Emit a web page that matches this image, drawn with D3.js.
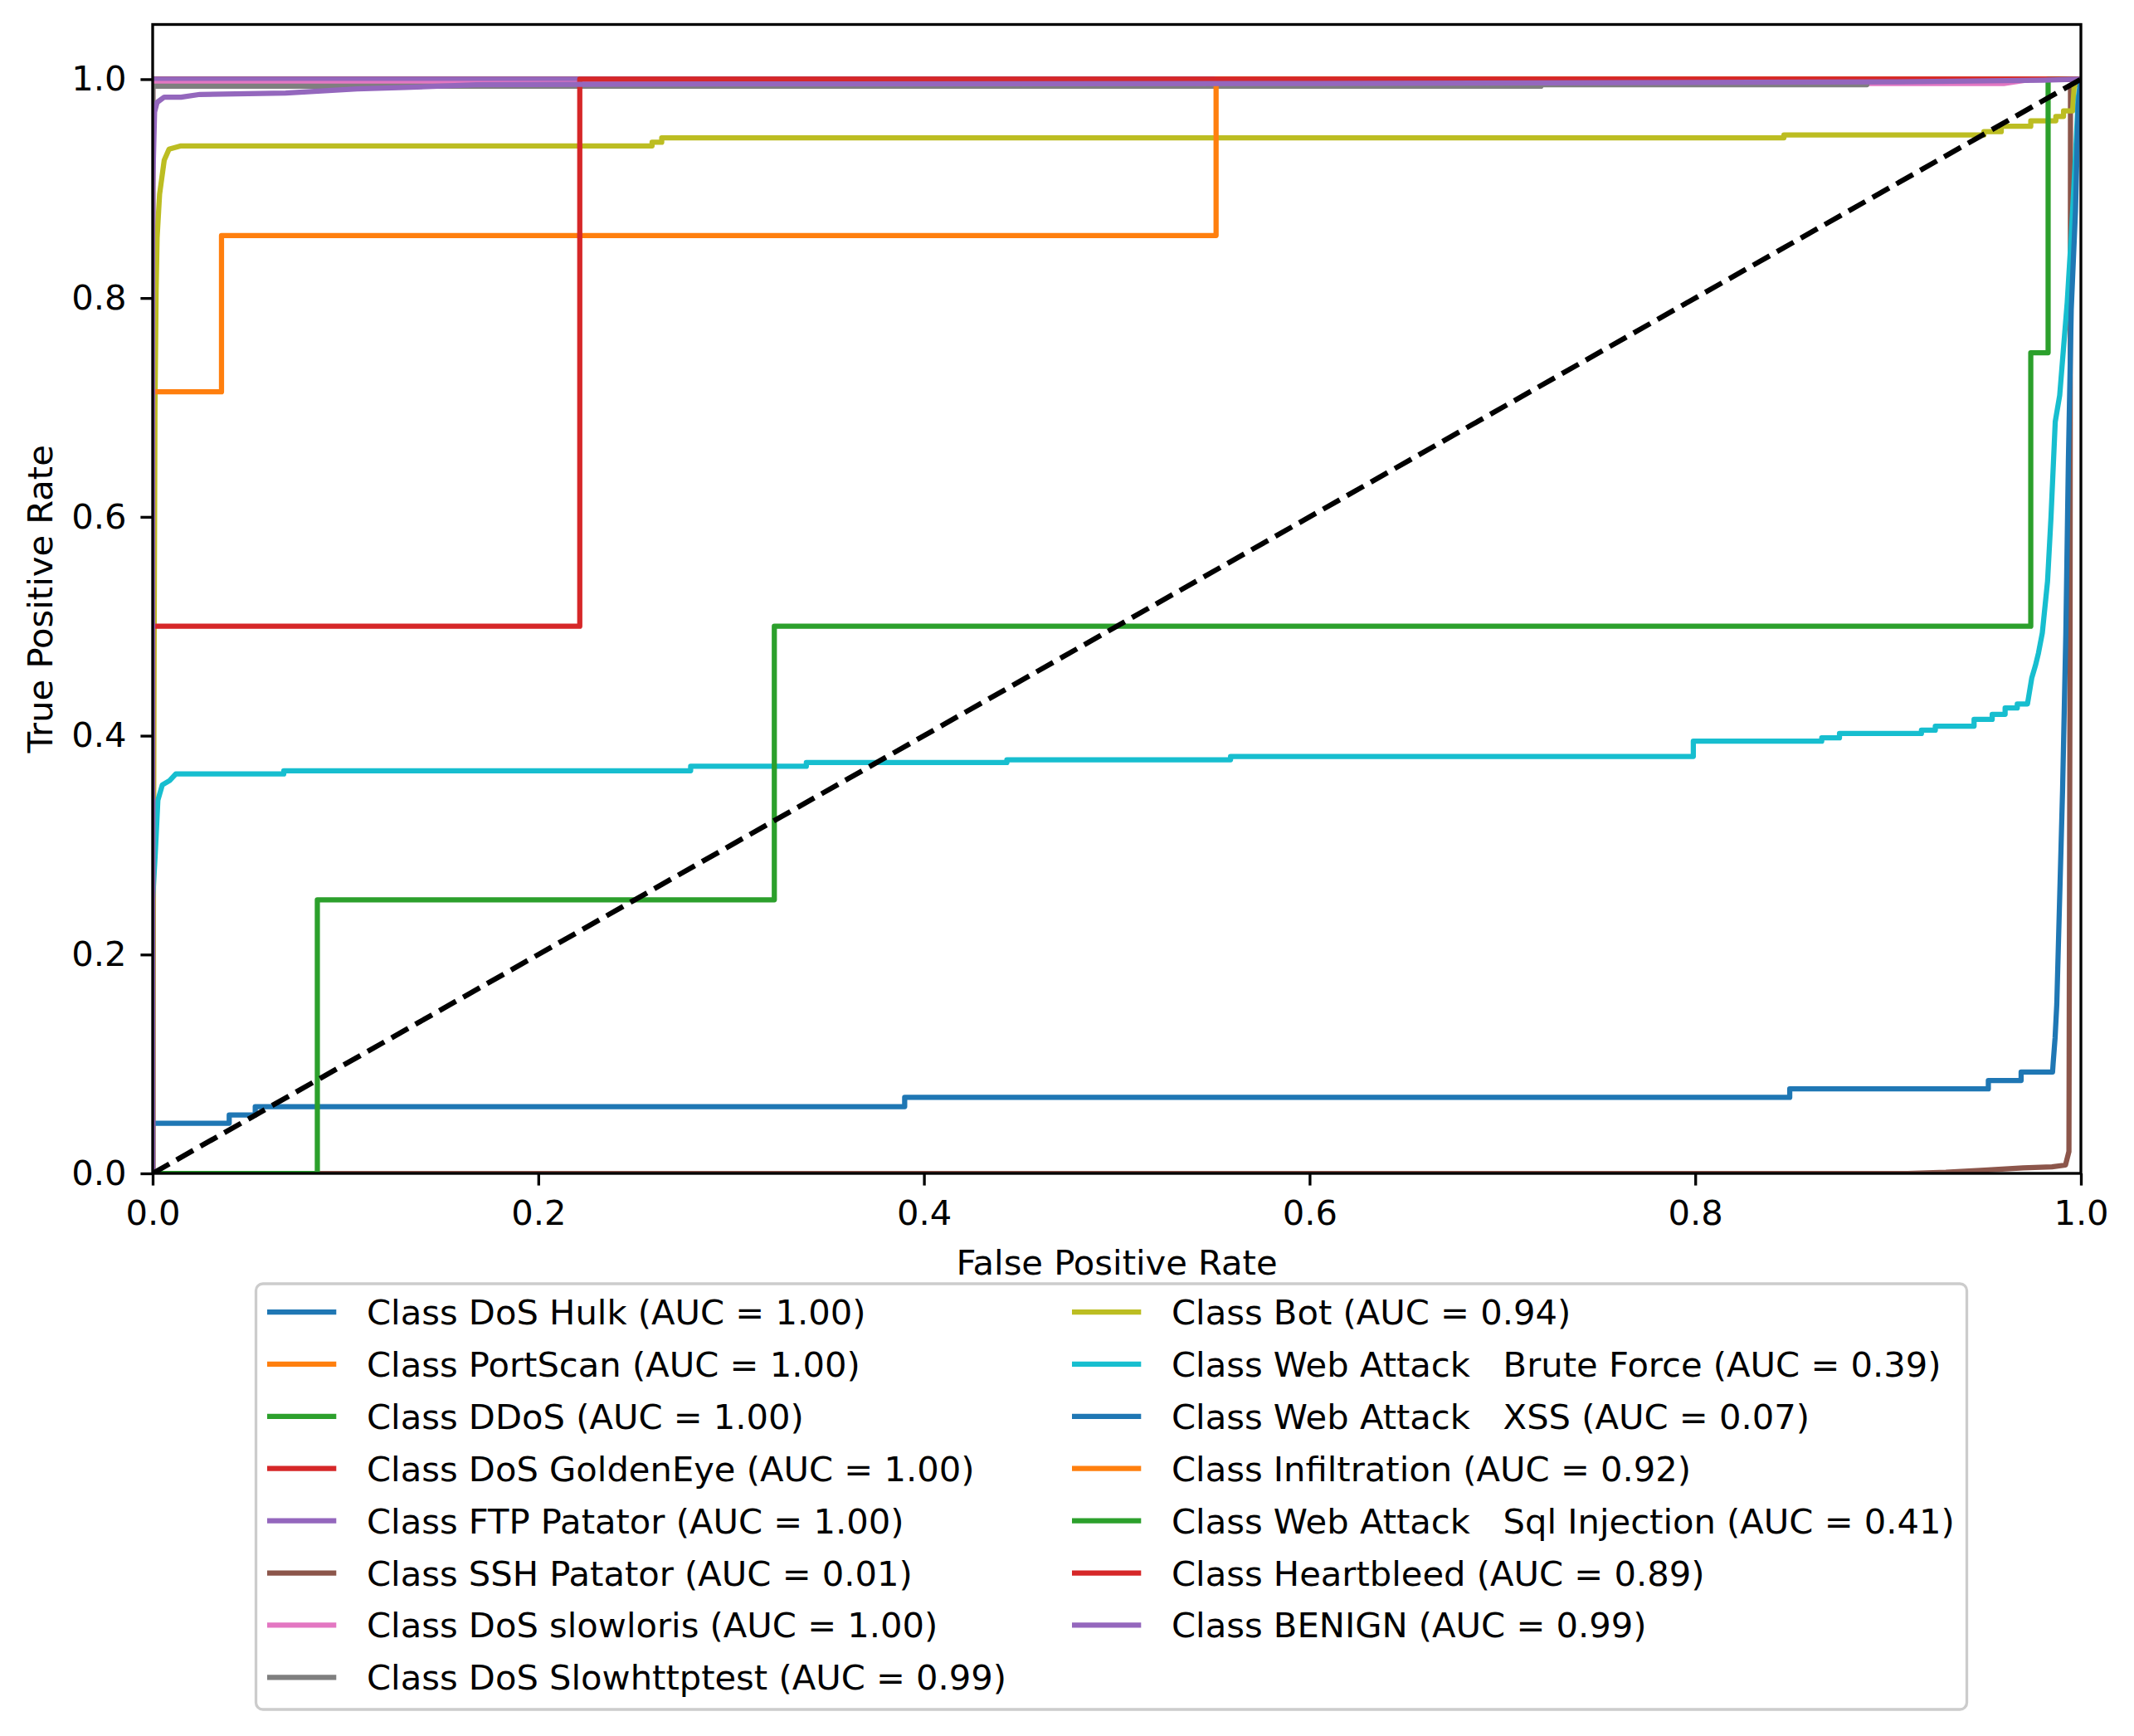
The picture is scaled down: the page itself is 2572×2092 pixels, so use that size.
<!DOCTYPE html>
<html lang="en">

<head>
  <meta charset="utf-8">
  <title>ROC Curves</title>
  <style>
    body {
      margin: 0;
      background: #ffffff;
      overflow: hidden;
    }

    svg text {
      font-family: 'DejaVu Sans', sans-serif;
      fill: #000000;
    }

    .legend-label {
      white-space: pre;
    }
  </style>
</head>

<body>
  <div id="roc-plot"></div>

  <script src="https://d3js.org/d3.v7.min.js"></script>
  <script>
    // Class names, AUC values and colours (legend order)
    var classNames = ["DoS Hulk", "PortScan", "DDoS", "DoS GoldenEye", "FTP Patator", "SSH Patator",
      "DoS slowloris", "DoS Slowhttptest", "Bot", "Web Attack   Brute Force", "Web Attack   XSS",
      "Infiltration", "Web Attack   Sql Injection", "Heartbleed", "BENIGN"];
    var aucValues = [1.00, 1.00, 1.00, 1.00, 1.00, 0.01, 1.00, 0.99, 0.94, 0.39, 0.07, 0.92, 0.41, 0.89, 0.99];
    var lineColors = ["#1f77b4", "#ff7f0e", "#2ca02c", "#d62728", "#9467bd", "#8c564b", "#e377c2", "#7f7f7f",
      "#bcbd22", "#17becf", "#1f77b4", "#ff7f0e", "#2ca02c", "#d62728", "#9467bd"];

    // ROC points [fpr, tpr]
    var rocDosHulk = [[0, 0], [0, 1], [1, 1]];
    var rocPortScan = [[0, 0], [0, 1], [1, 1]];
    var rocDdos = [[0, 0], [0, 1], [1, 1]];
    var rocGoldenEye = [[0, 0], [0, 1], [1, 1]];
    var rocFtpPatator = [[0, 0], [0, 1], [1, 1]];
    var rocSshPatator = [[0, 0], [0.91, 0], [0.93, 0.001], [0.95, 0.003], [0.97, 0.005], [0.985, 0.006],
      [0.992, 0.0076], [0.9938, 0.02], [0.9944, 0.5], [0.9946, 0.993], [1, 1]];
    var rocSlowloris = [[0, 0], [0, 0.996], [0.96, 0.996], [0.975, 1], [1, 1]];
    var rocSlowhttptest = [[0, 0], [0, 0.9935], [0.72, 0.9935], [0.72, 0.995], [0.889, 0.995],
      [0.889, 0.998], [1, 1]];
    var rocBot = [[0, 0], [0.0008, 0.5], [0.0012, 0.7], [0.0018, 0.807], [0.0023, 0.855], [0.0036, 0.895],
      [0.006, 0.926], [0.0085, 0.936], [0.0147, 0.939], [0.259, 0.939], [0.259, 0.9424], [0.264, 0.9424],
      [0.264, 0.9464], [0.846, 0.9464], [0.846, 0.949], [0.9497, 0.949], [0.9497, 0.952], [0.9587, 0.952],
      [0.9587, 0.957], [0.974, 0.957], [0.974, 0.962], [0.987, 0.962], [0.987, 0.966], [0.991, 0.966],
      [0.991, 0.971], [0.9957, 0.971], [0.9965, 0.993], [1, 1]];
    var rocBruteForce = [[0, 0], [0, 0.25], [0.0014, 0.294], [0.0027, 0.341], [0.005, 0.355], [0.0088, 0.359],
      [0.012, 0.365], [0.068, 0.365], [0.068, 0.368], [0.279, 0.368], [0.279, 0.372], [0.339, 0.372],
      [0.339, 0.3755], [0.443, 0.3755], [0.443, 0.378], [0.559, 0.378], [0.559, 0.381], [0.799, 0.381],
      [0.799, 0.395], [0.8656, 0.395], [0.8656, 0.398], [0.8748, 0.398], [0.8748, 0.402], [0.9173, 0.402],
      [0.9173, 0.405], [0.9245, 0.405], [0.9245, 0.4087], [0.9446, 0.4087], [0.9446, 0.4149], [0.954, 0.4149],
      [0.954, 0.4195], [0.9607, 0.4195], [0.9607, 0.4253], [0.967, 0.4253], [0.967, 0.429], [0.9723, 0.429],
      [0.9745, 0.4526], [0.9764, 0.464], [0.978, 0.4756], [0.98, 0.494], [0.9827, 0.541], [0.9845, 0.6],
      [0.9867, 0.687], [0.989, 0.711], [0.9929, 0.796], [0.995, 0.857], [0.9972, 0.93], [0.9986, 0.983],
      [1, 1]];
    var rocXss = [[0, 0], [0, 0.0458], [0.0397, 0.0458], [0.0397, 0.0533], [0.0532, 0.0533], [0.0532, 0.061],
      [0.39, 0.061], [0.39, 0.0694], [0.849, 0.0694], [0.849, 0.0772], [0.952, 0.0772], [0.952, 0.0849],
      [0.969, 0.0849], [0.969, 0.0926], [0.9853, 0.0926], [0.9856, 0.1004], [0.9866, 0.1236],
      [0.9875, 0.1547], [0.9905, 0.35], [0.9922, 0.494], [0.9935, 0.65], [0.995, 0.79], [0.9972, 0.88],
      [0.9986, 0.976], [1, 1]];
    var rocInfiltration = [[0, 0], [0, 0.7143], [0.0357, 0.7143], [0.0357, 0.8571], [0.5515, 0.8571],
      [0.5515, 1], [1, 1]];
    var rocSqlInjection = [[0, 0], [0.0854, 0], [0.0854, 0.25], [0.3224, 0.25], [0.3224, 0.5], [0.974, 0.5],
      [0.974, 0.75], [0.983, 0.75], [0.983, 1], [1, 1]];
    var rocHeartbleed = [[0, 0], [0, 0.5], [0.2215, 0.5], [0.2215, 1], [1, 1]];
    var rocBenign = [[0, 0], [0, 0.9], [0.001, 0.97], [0.0023, 0.9788], [0.006, 0.9836], [0.0147, 0.9836],
      [0.0245, 0.9861], [0.069, 0.9873], [0.106, 0.9911], [0.131, 0.9924], [0.168, 0.995], [0.3, 0.9957],
      [0.6, 0.996], [0.9, 0.9975], [0.98, 0.999], [1, 1]];

    // Chance line and tick labels
    var chanceLine = [[0, 0], [1, 1]];
    var xTicks = [0, 0.2, 0.4, 0.6, 0.8, 1.0];
    var yTicks = [0, 0.2, 0.4, 0.6, 0.8, 1.0];

    var rocCurves = [rocDosHulk, rocPortScan, rocDdos, rocGoldenEye, rocFtpPatator, rocSshPatator,
      rocSlowloris, rocSlowhttptest, rocBot, rocBruteForce, rocXss, rocInfiltration, rocSqlInjection,
      rocHeartbleed, rocBenign];

    var series = classNames.map(function (name, i) {
      return {
        label: "Class " + name + " (AUC = " + aucValues[i].toFixed(2) + ")",
        color: lineColors[i],
        points: rocCurves[i]
      };
    });

    // Figure size (300 dpi matplotlib output)
    var totalWidth = 2572, totalHeight = 2092;
    var fontSize = 41.67;
    var lineWidth = 6.25;
    var plot = { left: 184, right: 2508, top: 29.5, bottom: 1414 };

    var svg = d3.select("#roc-plot")
      .append("svg")
      .attr("width", totalWidth)
      .attr("height", totalHeight);

    var xScale = d3.scaleLinear().domain([0, 1]).range([plot.left, plot.right]);
    var yScale = d3.scaleLinear().domain([0, 1.05]).range([plot.bottom, plot.top]);

    svg.append("clipPath")
      .attr("id", "plot-clip")
      .append("rect")
      .attr("x", plot.left)
      .attr("y", plot.top)
      .attr("width", plot.right - plot.left)
      .attr("height", plot.bottom - plot.top);

    var line = d3.line()
      .x(function (d) { return xScale(d[0]); })
      .y(function (d) { return yScale(d[1]); });

    // ROC curves
    var curves = svg.append("g").attr("clip-path", "url(#plot-clip)");
    series.forEach(function (s) {
      curves.append("path")
        .attr("fill", "none")
        .attr("stroke", s.color)
        .attr("stroke-width", lineWidth)
        .attr("stroke-linejoin", "round")
        .attr("stroke-linecap", "square")
        .attr("d", line(s.points));
    });

    // Chance diagonal
    curves.append("path")
      .attr("fill", "none")
      .attr("stroke", "#000000")
      .attr("stroke-width", lineWidth)
      .attr("stroke-dasharray", "23.1,10")
      .attr("d", line(chanceLine));

    // Axes
    var xAxis = d3.axisBottom(xScale)
      .tickValues(xTicks)
      .tickFormat(d3.format(".1f"))
      .tickSizeOuter(0)
      .tickSize(14.6)
      .tickPadding(18);
    var gx = svg.append("g")
      .attr("transform", "translate(0," + plot.bottom + ")")
      .call(xAxis);

    var yAxis = d3.axisLeft(yScale)
      .tickValues(yTicks)
      .tickFormat(d3.format(".1f"))
      .tickSizeOuter(0)
      .tickSize(14.6)
      .tickPadding(17);
    var gy = svg.append("g")
      .attr("transform", "translate(" + plot.left + ",0)")
      .call(yAxis);

    [gx, gy].forEach(function (g) {
      g.select(".domain").remove();
      g.selectAll(".tick line").attr("stroke", "#000000").attr("stroke-width", 3.33);
      g.selectAll(".tick text")
        .style("font-family", "'DejaVu Sans', sans-serif")
        .style("font-size", fontSize + "px")
        .attr("fill", "#000000");
    });

    // Frame
    svg.append("rect")
      .attr("x", plot.left)
      .attr("y", plot.top)
      .attr("width", plot.right - plot.left)
      .attr("height", plot.bottom - plot.top)
      .attr("fill", "none")
      .attr("stroke", "#000000")
      .attr("stroke-width", 3.33);

    // Axis labels
    svg.append("text")
      .attr("x", (plot.left + plot.right) / 2)
      .attr("y", 1536)
      .attr("text-anchor", "middle")
      .style("font-size", fontSize + "px")
      .text("False Positive Rate");

    svg.append("text")
      .attr("transform", "translate(63," + (plot.top + plot.bottom) / 2 + ") rotate(-90)")
      .attr("text-anchor", "middle")
      .style("font-size", fontSize + "px")
      .text("True Positive Rate");

    // Legend, two columns below the axes
    var legendBox = { x: 308.5, y: 1547, width: 2062, height: 513 };
    svg.append("rect")
      .attr("x", legendBox.x)
      .attr("y", legendBox.y)
      .attr("width", legendBox.width)
      .attr("height", legendBox.height)
      .attr("rx", 8.3)
      .attr("fill", "#ffffff")
      .attr("fill-opacity", 0.8)
      .attr("stroke", "#cccccc")
      .attr("stroke-width", 3.33);

    var rowsPerColumn = Math.ceil(series.length / 2);
    var columnX = [322, 1292];
    var firstRowY = 1581, rowStep = 62.9, handleLength = 83.3, textGap = 36.7;

    var legendItems = svg.append("g")
      .selectAll("g")
      .data(series)
      .enter()
      .append("g")
      .attr("transform", function (d, i) {
        var col = Math.floor(i / rowsPerColumn);
        var row = i % rowsPerColumn;
        return "translate(" + columnX[col] + "," + (firstRowY + row * rowStep) + ")";
      });

    legendItems.append("line")
      .attr("x1", 0)
      .attr("x2", handleLength)
      .attr("stroke", function (d) { return d.color; })
      .attr("stroke-width", lineWidth);

    legendItems.append("text")
      .attr("class", "legend-label")
      .attr("x", handleLength + textGap)
      .attr("y", 15)
      .style("font-size", fontSize + "px")
      .text(function (d) { return d.label; });
  </script>
</body>

</html>
